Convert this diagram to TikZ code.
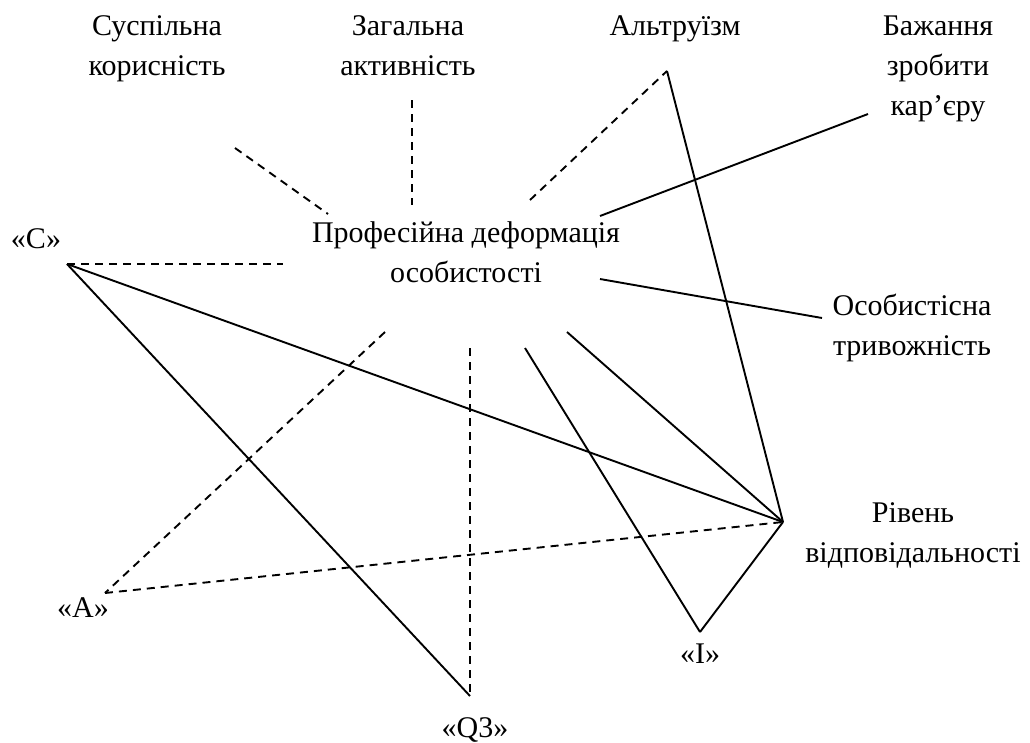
\documentclass[tikz,border=0pt]{standalone}
\usepackage{fontspec}
\setmainfont{Liberation Serif}
\usepackage{tikz}

\begin{document}
\begin{tikzpicture}[x=1pt,y=-1pt]
\useasboundingbox (0,0) rectangle (1030,742);

% labels, placed at the baseline of their last line
\begin{scope}[every node/.style={align=center,anchor=base,inner sep=0pt,font=\fontsize{30}{40}\selectfont}]
    \node (Deform) at (466,282) {Професійна деформація\\особистості};
    \node (Korysn) at (157,75) {Суспільна\\корисність};
    \node (Aktyvn) at (408,75) {Загальна\\активність};
    \node (Altruizm) at (675,35) {Альтруїзм};
    \node (Kariera) at (938,115) {Бажання\\зробити\\кар’єру};
    \node (Tryvozh) at (912,355) {Особистісна\\тривожність};
    \node (Vidpov) at (913,562) {Рівень\\відповідальності};
    \node (C) at (36,248) {«С»};
    \node (A) at (83,617) {«А»};
    \node (Q) at (475,737) {«Q3»};
    \node (I) at (700,663) {«І»};
\end{scope}

% vertices and free ends
\coordinate (pC) at (67,264);
\coordinate (pA) at (105,593);
\coordinate (pQ) at (470,696);
\coordinate (pI) at (700,632);
\coordinate (pR) at (783,522);
\coordinate (pAl) at (667,71);
\coordinate (eKorysn) at (235,148);
\coordinate (sKorysn) at (328,214);
\coordinate (eAktyvn) at (412,100);
\coordinate (sAktyvn) at (412,205);
\coordinate (sAltr) at (530,200);
\coordinate (sKar) at (600,216);
\coordinate (eKar) at (868,114);
\coordinate (sTryv) at (600,279);
\coordinate (eTryv) at (822,318);
\coordinate (eC) at (283,264);
\coordinate (sA) at (385,332);
\coordinate (sQ) at (470,348);
\coordinate (sR) at (567,332);
\coordinate (sI) at (525,348);

\begin{scope}[every edge/.style={draw,line width=1.9pt,dash pattern=on 8pt off 6pt}]
    \path (eKorysn) edge (sKorysn);
    \path (eAktyvn) edge (sAktyvn);
    \path (sAltr) edge (pAl);
    \path (pC) edge (eC);
    \path (sA) edge (pA);
    \path (pA) edge (pR);
    \path (sQ) edge (pQ);
\end{scope}

\begin{scope}[every edge/.style={draw,line width=1.9pt}]
    \path (pAl) edge (pR);
    \path (sKar) edge (eKar);
    \path (sTryv) edge (eTryv);
    \path (pC) edge (pR);
    \path (pC) edge (pQ);
    \path (sR) edge (pR);
    \path (sI) edge (pI);
    \path (pI) edge (pR);
\end{scope}
\end{tikzpicture}
\end{document}
